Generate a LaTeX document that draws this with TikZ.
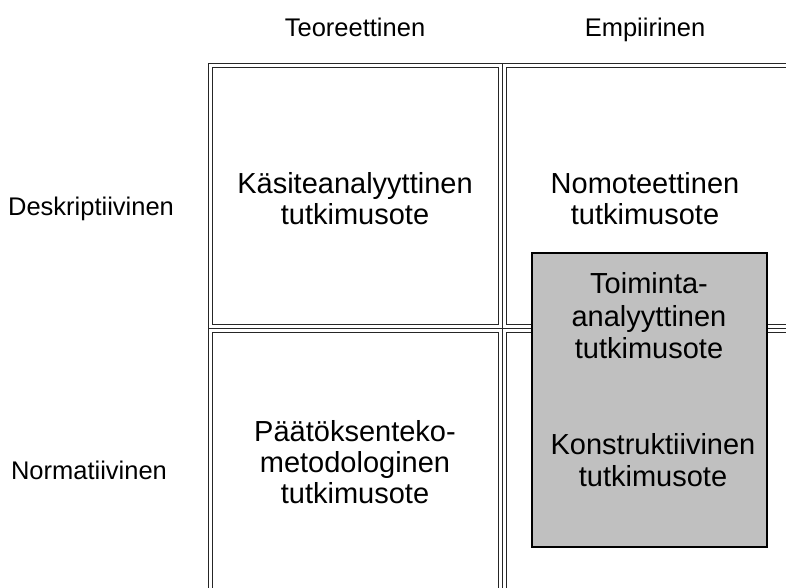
\documentclass[tikz,border=0pt]{standalone}
\usepackage{fontspec}
\setmainfont{Liberation Sans}
\begin{document}
\begin{tikzpicture}[x=1pt,y=-1pt,
  grid/.style={line width=1.2pt,black!85},
  head/.style={anchor=base,font=\fontsize{25.5}{30}\selectfont},
  cell/.style={align=center,font=\fontsize{29}{31}\selectfont},
  graycell/.style={align=center,font=\fontsize{29}{32.5}\selectfont}]

  \useasboundingbox (0,0) rectangle (786,587);
  \clip (0,0) rectangle (786,587);

  % table frame and cells
  \draw [grid] (208.5,600) -- (208.5,63.5) -- (800,63.5);
  \draw [grid] (502.5,63.5) -- (502.5,600);
  \draw [grid] (208.5,328.5) -- (800,328.5);
  \draw [grid] (212.5,67.5) rectangle (498.5,324.5);
  \draw [grid] (506.5,67.5) rectangle (800,324.5);
  \draw [grid] (212.5,332.5) rectangle (498.5,600);
  \draw [grid] (506.5,332.5) rectangle (800,600);

  \node [head] (teor) at (355,36) {Teoreettinen};
  \node [head] (emp) at (645,36) {Empiirinen};
  \node [head] (desk) at (91,215) {Deskriptiivinen};
  \node [head] (norm) at (89,479) {Normatiivinen};

  \node [cell] (kasite) at (355,199) {Käsiteanalyyttinen\\tutkimusote};
  \node [cell] (nomo) at (645,199) {Nomoteettinen\\tutkimusote};
  \node [cell] (paatos) at (355,462) {Päätöksenteko-\\metodologinen\\tutkimusote};

  \node [draw, line width=2pt, fill={rgb,255:red,192;green,192;blue,192},
         minimum width=235.5pt, minimum height=294pt] (box) at (649.25,399.5) {};
  \node [graycell] (toim) at (649,316) {Toiminta-\\analyyttinen\\tutkimusote};
  \node [graycell] (konst) at (653,460) {Konstruktiivinen\\tutkimusote};

\end{tikzpicture}
\end{document}
